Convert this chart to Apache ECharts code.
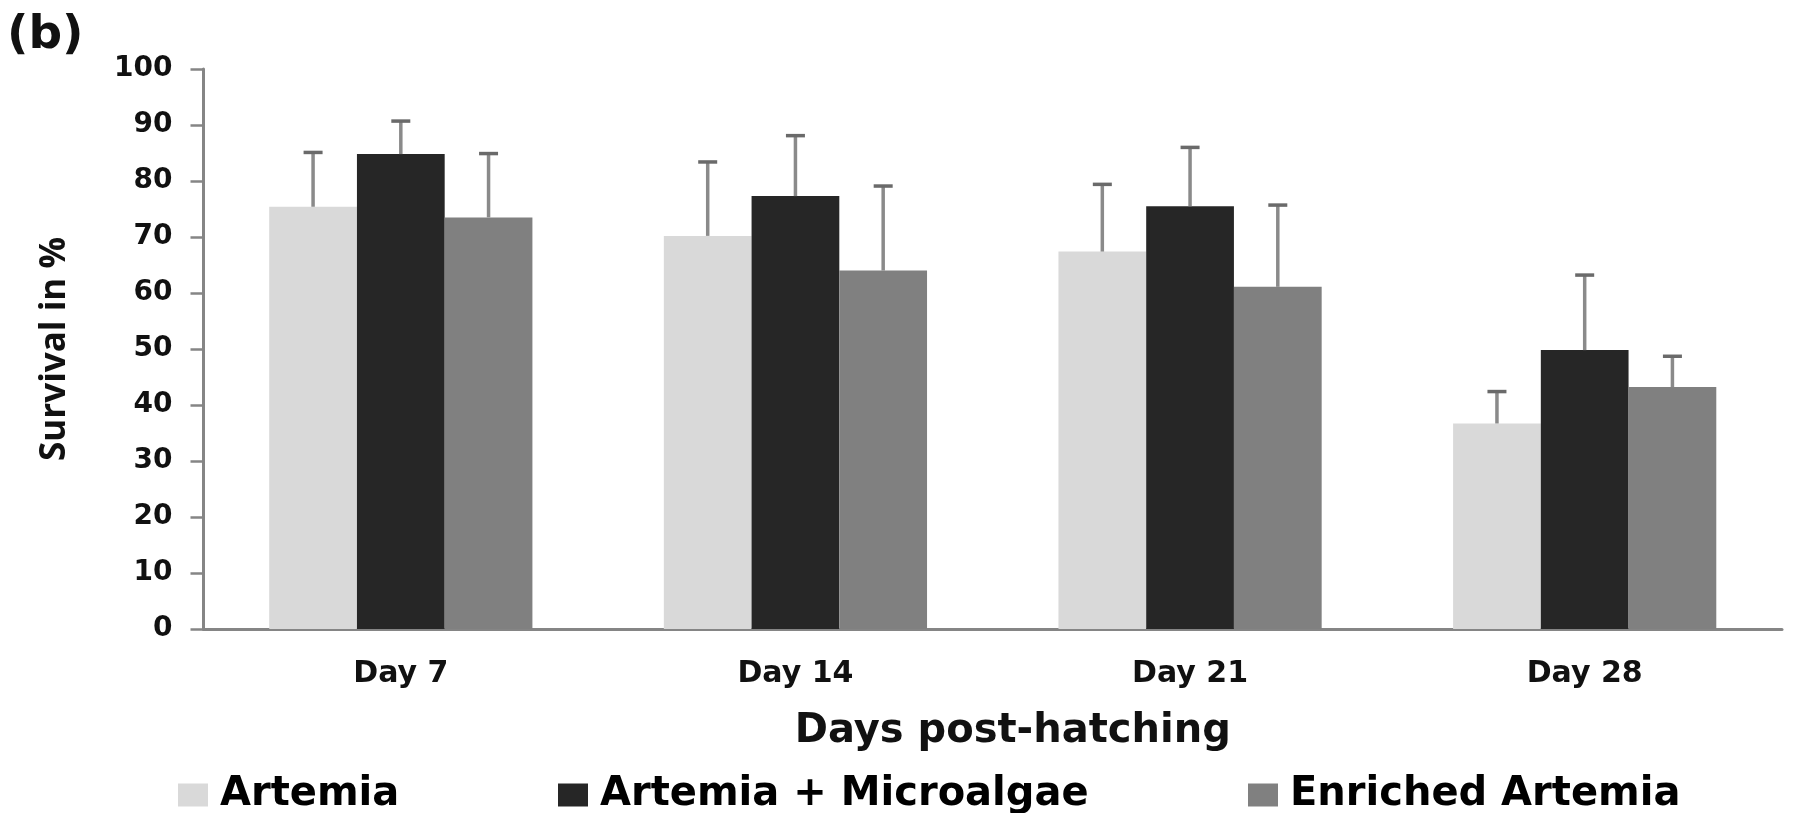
<!DOCTYPE html>
<html>
<head>
<meta charset="utf-8">
<script src="https://cdn.jsdelivr.net/npm/echarts@6/dist/echarts.min.js"></script>
<style>html,body{margin:0;padding:0;background:#fff;}#c{width:1793px;height:813px;}</style>
</head>
<body>
<div id="c"></div>
<script>
const categories = ['Day 7', 'Day 14', 'Day 21', 'Day 28'];
const seriesNames = ['Artemia', 'Artemia + Microalgae', 'Enriched Artemia'];
const artemia = [75.4, 70.2, 67.4, 36.7];
const artemiaErr = [9.7, 13.2, 12.0, 5.7];
const microalgae = [84.8, 77.3, 75.5, 49.8];
const microalgaeErr = [5.9, 10.8, 10.5, 13.4];
const enriched = [73.5, 64.0, 61.1, 43.2];
const enrichedErr = [11.4, 15.1, 14.6, 5.5];
const yTicks = [0, 10, 20, 30, 40, 50, 60, 70, 80, 90, 100];

const colors = ['#d9d9d9', '#262626', '#808080'];
const values = [artemia, microalgae, enriched];
const errs = [artemiaErr, microalgaeErr, enrichedErr];
const gapPct = 0.333;

const chart = echarts.init(document.getElementById('c'));

const barSeries = seriesNames.map((n, k) => ({
  name: n, type: 'bar', data: values[k], barGap: '0%', barCategoryGap: '33.3%',
  itemStyle: { color: colors[k] }, z: 2
}));

const errData = [];
values.forEach((arr, k) => arr.forEach((v, i) => errData.push([i, v, errs[k][i], k])));

const errSeries = {
  type: 'custom', name: 'err', z: 5, silent: true,
  data: errData,
  encode: { x: 0, y: 1 },
  renderItem: function (params, api) {
    const i = api.value(0), v = api.value(1), e = api.value(2), k = api.value(3);
    const band = api.size([1, 0])[0];
    const bw = band * (1 - gapPct) / 3;
    const base = api.coord([i, v]);
    const top = api.coord([i, v + e]);
    const x = base[0] + (k - 1) * bw;
    const half = 9.5;
    return {
      type: 'group',
      children: [
        { type: 'line', shape: { x1: x, y1: base[1], x2: x, y2: top[1] }, style: { stroke: '#8a8a8a', lineWidth: 3.5 } },
        { type: 'line', shape: { x1: x - half, y1: top[1], x2: x + half, y2: top[1] }, style: { stroke: '#6a6a6a', lineWidth: 3.5 } }
      ]
    };
  }
};

function legendFor(k, left) {
  return {
    data: [seriesNames[k]], left: left, top: 770, icon: 'rect', itemWidth: 30, itemHeight: 23,
    selectedMode: false,
    textStyle: { fontFamily: 'DejaVu Sans', fontWeight: 'bold', fontSize: 40, color: '#000', padding: [0, 0, 0, 7] }
  };
}

chart.setOption({
  animation: false,
  backgroundColor: '#fff',
  graphic: [{
    type: 'text', left: 7, top: 12,
    style: { text: '(b)', font: 'bold 47px "DejaVu Sans"', fill: '#111' }
  }],
  legend: [legendFor(0, 173), legendFor(1, 553), legendFor(2, 1243)],
  grid: { left: 203.5, right: 11, top: 69, bottom: 184, containLabel: false },
  xAxis: {
    type: 'category', data: categories,
    axisLine: { lineStyle: { color: '#858585', width: 3 } },
    axisTick: { show: false },
    axisLabel: { fontFamily: 'DejaVu Sans', fontWeight: 'bold', fontSize: 30, color: '#111', margin: 30 },
    name: 'Days post-hatching', nameLocation: 'middle', nameGap: 83,
    nameTextStyle: { fontFamily: 'DejaVu Sans', fontWeight: 'bold', fontSize: 40, color: '#111', padding: [0, 0, 0, 40] }
  },
  yAxis: {
    type: 'value', min: yTicks[0], max: yTicks[yTicks.length - 1], interval: 10,
    splitLine: { show: false },
    axisLine: { show: true, lineStyle: { color: '#858585', width: 3 } },
    axisTick: { show: true, length: 13, lineStyle: { color: '#858585', width: 2.5 } },
    axisLabel: { fontFamily: 'DejaVu Sans', fontWeight: 'bold', fontSize: 28, color: '#111', margin: 31 },
    name: 'Survival in %', nameLocation: 'middle', nameRotate: 90, nameGap: 131,
    nameTextStyle: { fontFamily: 'Open Sans', fontWeight: 'bold', fontSize: 35, color: '#111' }
  },
  series: barSeries.concat([errSeries])
});
</script>
</body>
</html>
